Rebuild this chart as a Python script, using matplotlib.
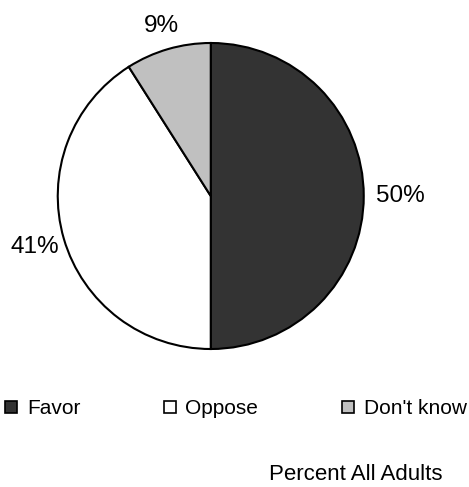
#!/usr/bin/env python3
"""Pie chart: Favor / Oppose / Don't know, percent of all adults."""

import numpy as np
import matplotlib.pyplot as plt
from matplotlib.lines import Line2D

plt.rcParams["font.family"] = ["Liberation Sans", "DejaVu Sans"]

CATEGORIES = ["Favor", "Oppose", "Don't know"]
PERCENTS = [50, 41, 9]
COLORS = ["#333333", "#ffffff", "#c0c0c0"]
FOOTER = "Percent All Adults"

LABEL_DIST = [1.24, 1.20, 1.16]  # radial distance of each % label
W, H = 469, 487


def main():
    fig = plt.figure(figsize=(W / 100, H / 100), dpi=100)
    # pie box: 306 px square centred at (210.75, 196)
    ax = fig.add_axes([57.75 / W, (H - 349) / H, 306 / W, 306 / H])
    wedges, _, pcts = ax.pie(
        PERCENTS, colors=COLORS, startangle=90, counterclock=False,
        autopct=lambda p: f"{p:.0f}%", pctdistance=1.2,
        wedgeprops=dict(edgecolor="black", linewidth=1.5),
        textprops=dict(fontsize=17.5, color="black"))
    for w, t, d in zip(wedges, pcts, LABEL_DIST):
        ang = np.deg2rad((w.theta1 + w.theta2) / 2)
        t.set_position((d * np.cos(ang), d * np.sin(ang)))
    ax.set_xlim(-1, 1)
    ax.set_ylim(-1, 1)
    ax.set_aspect("equal")
    ax.axis("off")

    handles = [Line2D([], [], linestyle="none", marker="s", markersize=8.5,
                      markerfacecolor=c, markeredgecolor="black",
                      markeredgewidth=1.2) for c in COLORS]
    fig.legend(handles, CATEGORIES, loc="center left",
               bbox_to_anchor=(5 / W, 1 - 409 / H), ncol=3, frameon=False,
               fontsize=15, handlelength=0.6, handletextpad=0.45,
               columnspacing=4.0, borderpad=0, borderaxespad=0)

    fig.text(442 / W, 1 - 475 / H, FOOTER, ha="right", va="center",
             fontsize=16)

    fig.savefig("out.png", dpi=100)


if __name__ == "__main__":
    main()
